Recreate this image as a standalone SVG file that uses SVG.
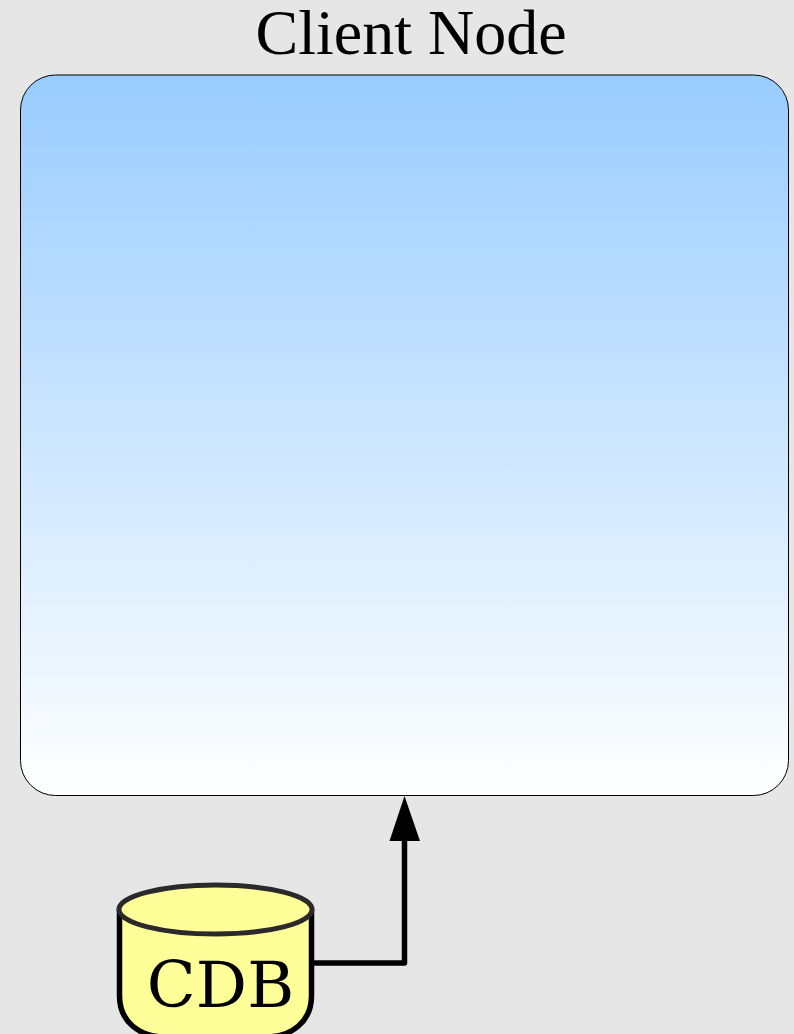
<svg xmlns="http://www.w3.org/2000/svg" width="794" height="1034" viewBox="0 0 794 1034">
<defs>
<linearGradient id="g" x1="0" y1="0" x2="0" y2="1"><stop offset="0" stop-color="#99ccff"/><stop offset="1" stop-color="#ffffff"/></linearGradient>
</defs>
<style>
.title{font-family:"Liberation Serif",serif;font-size:64px;fill:#000}
.t{font-family:"DejaVu Serif",serif;font-size:64px;fill:#000}
.body{fill:#ffff99;stroke:#000;stroke-width:5.5}
.lid{fill:#ffff99;stroke:#2a2a2a;stroke-width:5}
</style>
<rect width="794" height="1034" fill="#e6e6e6"/>
<g id="client-node">
<rect x="20.500" y="75" width="768" height="720.500" rx="35" ry="35" fill="url(#g)" stroke="#000" stroke-width="1"/>
<text class="title" x="411" y="54" text-anchor="middle">Client Node</text>
</g>
<g id="connectors">
<path d="M314 963H404.500V838" fill="none" stroke="#000" stroke-width="5.500" stroke-linejoin="round"/>
<path d="M404.500 796L420 841H389.500Z" fill="#000"/>
</g>
<g id="cdb">
<path class="body" d="M119.500 909V996C119.500 1022 140 1037 165 1037H266C291 1037 311.500 1022 311.500 996V909"/>
<ellipse class="lid" cx="215.500" cy="909.500" rx="96.500" ry="24.500"/>
<text class="t" x="220.500" y="1006.500" text-anchor="middle">CDB</text>
</g>
</svg>
